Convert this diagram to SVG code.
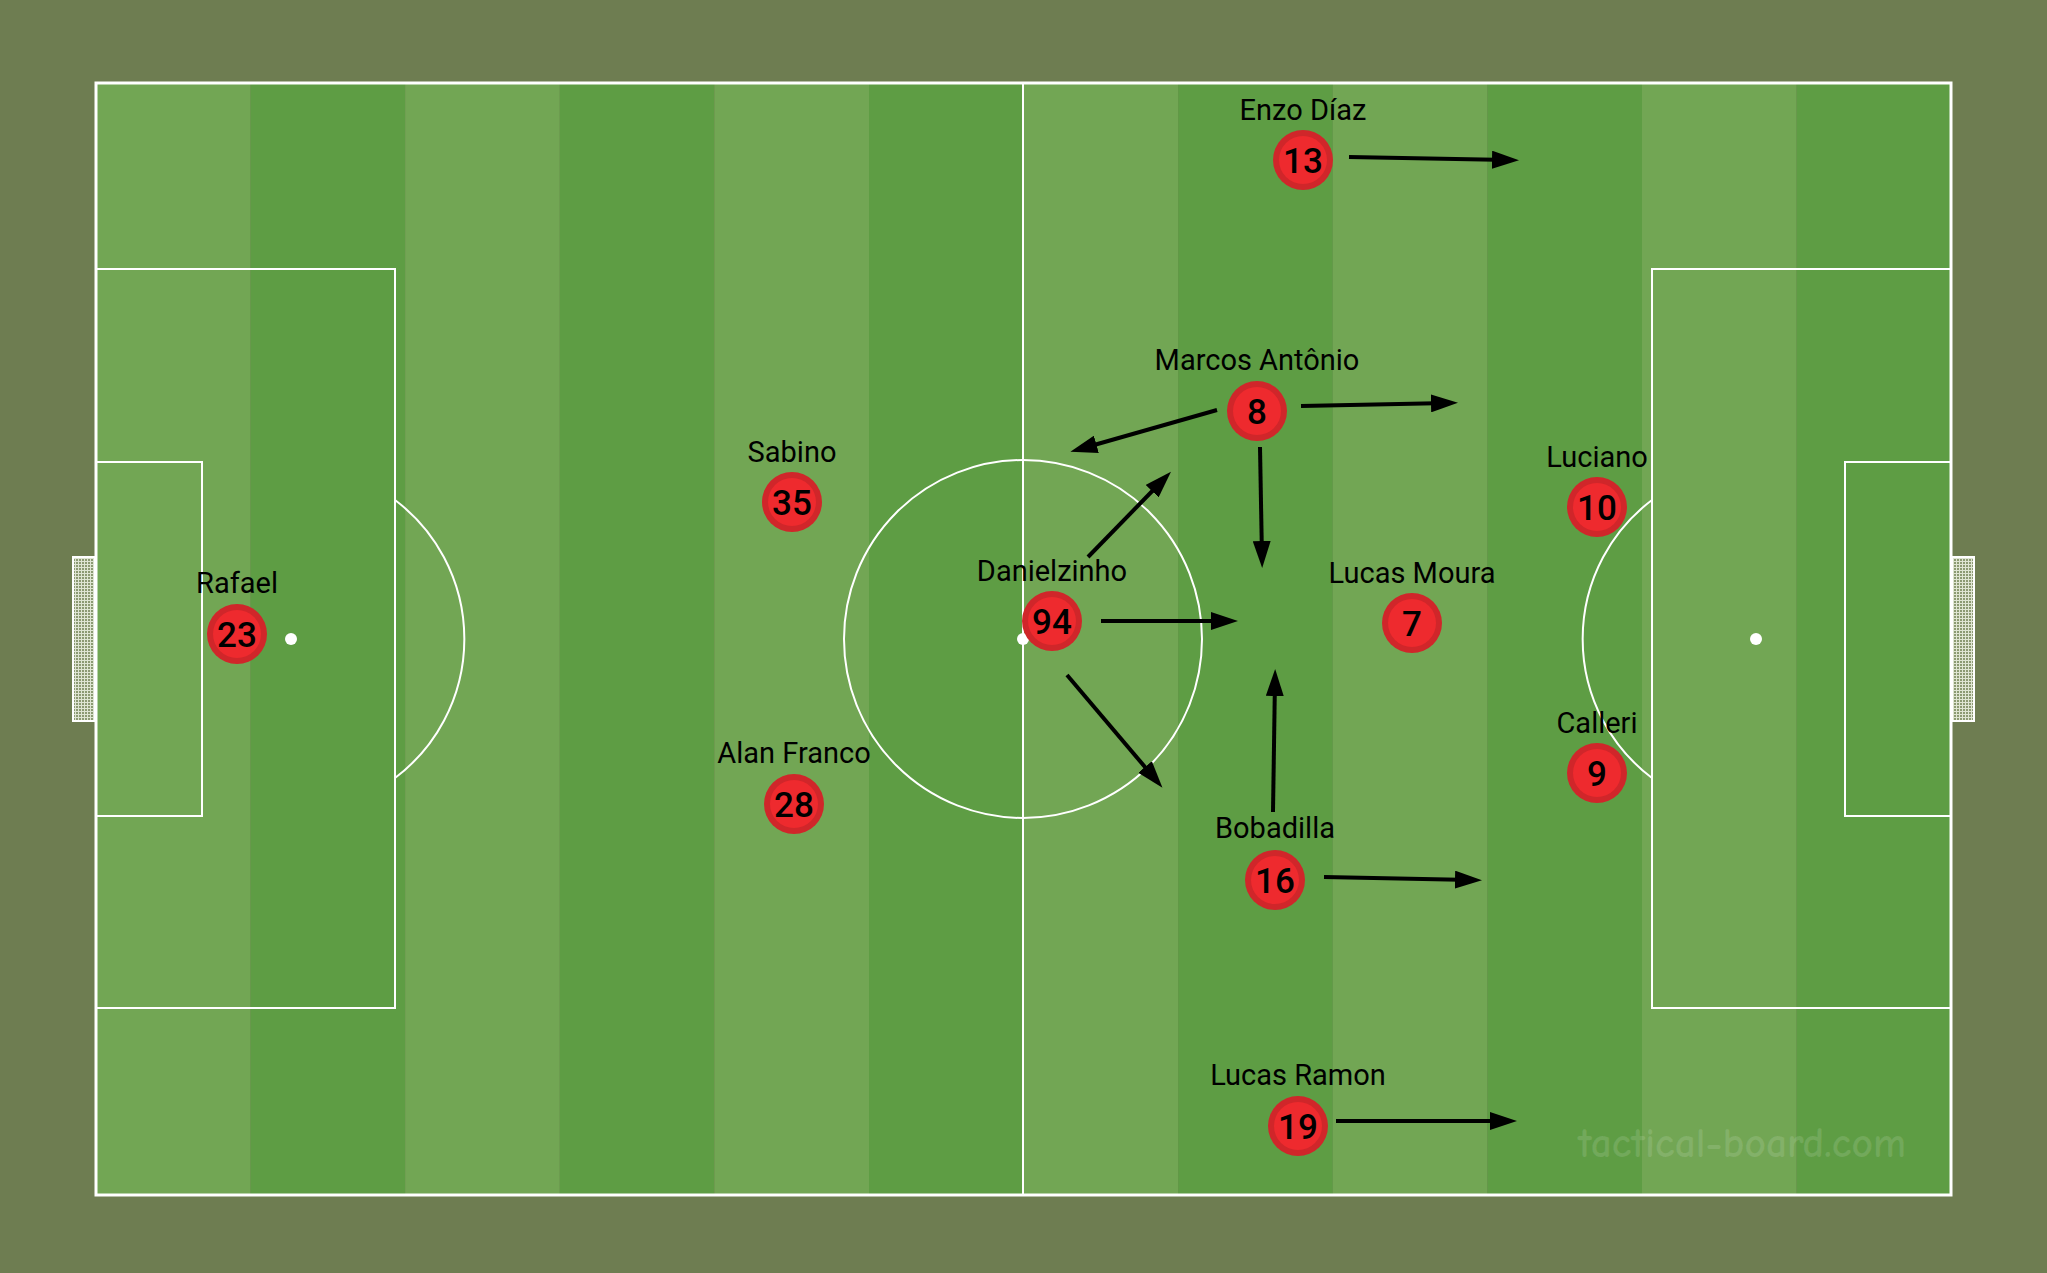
<svg xmlns="http://www.w3.org/2000/svg" width="2047" height="1273" viewBox="0 0 2047 1273">
<style>
.line{fill:none;stroke:#fff;stroke-width:2}
.outer{fill:none;stroke:#fff;stroke-width:3}
.light{fill:#72a654}
.dark{fill:#5e9d44}
.name{font-family:Roboto,"Liberation Sans",sans-serif;font-size:29px;fill:#000;text-anchor:middle}
.num{font-family:Roboto,"Liberation Sans",sans-serif;font-size:35px;font-weight:500;fill:#000;text-anchor:middle}
.ring{fill:#d0262a}
.core{fill:#ee2a2e}
.arrow{stroke:#000;stroke-width:4;fill:none;marker-end:url(#ah)}
</style>
<defs>
<marker id="ah" markerUnits="userSpaceOnUse" markerWidth="27" markerHeight="18" refX="17" refY="9" orient="auto">
<path d="M0,0 L27,9 L0,18 z" fill="#000"/>
</marker>
<pattern id="net" width="3" height="3" patternUnits="userSpaceOnUse">
<rect width="3" height="3" fill="#8c9a72"/>
<path d="M0,0.5 H3 M0.5,0 V3" stroke="#dfe5d2" stroke-width="1"/>
</pattern>
</defs>
<rect width="2047" height="1273" fill="#6e7d51"/>
<g id="pitch">
<rect class="light" x="96" y="83" width="154.6" height="1112"/>
<rect class="dark" x="250.6" y="83" width="154.6" height="1112"/>
<rect class="light" x="405.2" y="83" width="154.6" height="1112"/>
<rect class="dark" x="559.8" y="83" width="154.6" height="1112"/>
<rect class="light" x="714.4" y="83" width="154.6" height="1112"/>
<rect class="dark" x="869" y="83" width="154.6" height="1112"/>
<rect class="light" x="1023.6" y="83" width="154.6" height="1112"/>
<rect class="dark" x="1178.2" y="83" width="154.6" height="1112"/>
<rect class="light" x="1332.8" y="83" width="154.6" height="1112"/>
<rect class="dark" x="1487.4" y="83" width="154.6" height="1112"/>
<rect class="light" x="1642" y="83" width="154.6" height="1112"/>
<rect class="dark" x="1796.6" y="83" width="154.4" height="1112"/>
<rect class="outer" x="96" y="83" width="1855" height="1112"/>
<line class="line" x1="1023" y1="83" x2="1023" y2="1195"/>
<circle class="line" cx="1023" cy="639" r="179"/>
<circle cx="1023" cy="639" r="6" fill="#fff"/>
<rect class="line" x="96" y="269" width="299" height="739"/>
<rect class="line" x="96" y="462" width="106" height="354"/>
<circle cx="291" cy="639" r="6" fill="#fff"/>
<path class="line" d="M395,500 A174,174 0 0 1 395,778"/>
<rect class="line" x="1652" y="269" width="299" height="739"/>
<rect class="line" x="1845" y="462" width="106" height="354"/>
<circle cx="1756" cy="639" r="6" fill="#fff"/>
<path class="line" d="M1652,500 A174,174 0 0 0 1652,778"/>
<rect x="73" y="557" width="22" height="164" fill="url(#net)" stroke="#fff" stroke-width="2"/>
<rect x="1952" y="557" width="22" height="164" fill="url(#net)" stroke="#fff" stroke-width="2"/>
<text x="1742" y="1157" font-family="'Comic Neue','DejaVu Sans',sans-serif" font-size="42" font-weight="bold" fill="#fff" fill-opacity="0.12" text-anchor="middle" textLength="328" lengthAdjust="spacingAndGlyphs">tactical-board.com</text>
</g>
<g id="connectors">
<line class="arrow" x1="1349" y1="157" x2="1509" y2="160"/>
<line class="arrow" x1="1301" y1="406" x2="1448" y2="403"/>
<line class="arrow" x1="1217" y1="410" x2="1080" y2="449"/>
<line class="arrow" x1="1260" y1="447" x2="1262" y2="558"/>
<line class="arrow" x1="1088" y1="557" x2="1164" y2="479"/>
<line class="arrow" x1="1101" y1="621" x2="1228" y2="621"/>
<line class="arrow" x1="1067" y1="675" x2="1156" y2="780"/>
<line class="arrow" x1="1273" y1="812" x2="1275" y2="679"/>
<line class="arrow" x1="1324" y1="877" x2="1472" y2="880"/>
<line class="arrow" x1="1336" y1="1121" x2="1507" y2="1121"/>
</g>
<g id="p23"><circle class="ring" cx="237" cy="634" r="30"/><circle class="core" cx="237" cy="634" r="24"/><text class="num" x="237" y="647">23</text><text class="name" x="237" y="593">Rafael</text></g>
<g id="p35"><circle class="ring" cx="792" cy="502" r="30"/><circle class="core" cx="792" cy="502" r="24"/><text class="num" x="792" y="515">35</text><text class="name" x="792" y="462">Sabino</text></g>
<g id="p28"><circle class="ring" cx="794" cy="804" r="30"/><circle class="core" cx="794" cy="804" r="24"/><text class="num" x="794" y="817">28</text><text class="name" x="794" y="763">Alan Franco</text></g>
<g id="p94"><circle class="ring" cx="1052" cy="621" r="30"/><circle class="core" cx="1052" cy="621" r="24"/><text class="num" x="1052" y="634">94</text><text class="name" x="1052" y="581">Danielzinho</text></g>
<g id="p13"><circle class="ring" cx="1303" cy="160" r="30"/><circle class="core" cx="1303" cy="160" r="24"/><text class="num" x="1303" y="173">13</text><text class="name" x="1303" y="120">Enzo Díaz</text></g>
<g id="p8"><circle class="ring" cx="1257" cy="411" r="30"/><circle class="core" cx="1257" cy="411" r="24"/><text class="num" x="1257" y="424">8</text><text class="name" x="1257" y="370">Marcos Antônio</text></g>
<g id="p16"><circle class="ring" cx="1275" cy="880" r="30"/><circle class="core" cx="1275" cy="880" r="24"/><text class="num" x="1275" y="893">16</text><text class="name" x="1275" y="838">Bobadilla</text></g>
<g id="p19"><circle class="ring" cx="1298" cy="1126" r="30"/><circle class="core" cx="1298" cy="1126" r="24"/><text class="num" x="1298" y="1139">19</text><text class="name" x="1298" y="1085">Lucas Ramon</text></g>
<g id="p7"><circle class="ring" cx="1412" cy="623" r="30"/><circle class="core" cx="1412" cy="623" r="24"/><text class="num" x="1412" y="636">7</text><text class="name" x="1412" y="583">Lucas Moura</text></g>
<g id="p10"><circle class="ring" cx="1597" cy="507" r="30"/><circle class="core" cx="1597" cy="507" r="24"/><text class="num" x="1597" y="520">10</text><text class="name" x="1597" y="467">Luciano</text></g>
<g id="p9"><circle class="ring" cx="1597" cy="773" r="30"/><circle class="core" cx="1597" cy="773" r="24"/><text class="num" x="1597" y="786">9</text><text class="name" x="1597" y="733">Calleri</text></g>
</svg>
